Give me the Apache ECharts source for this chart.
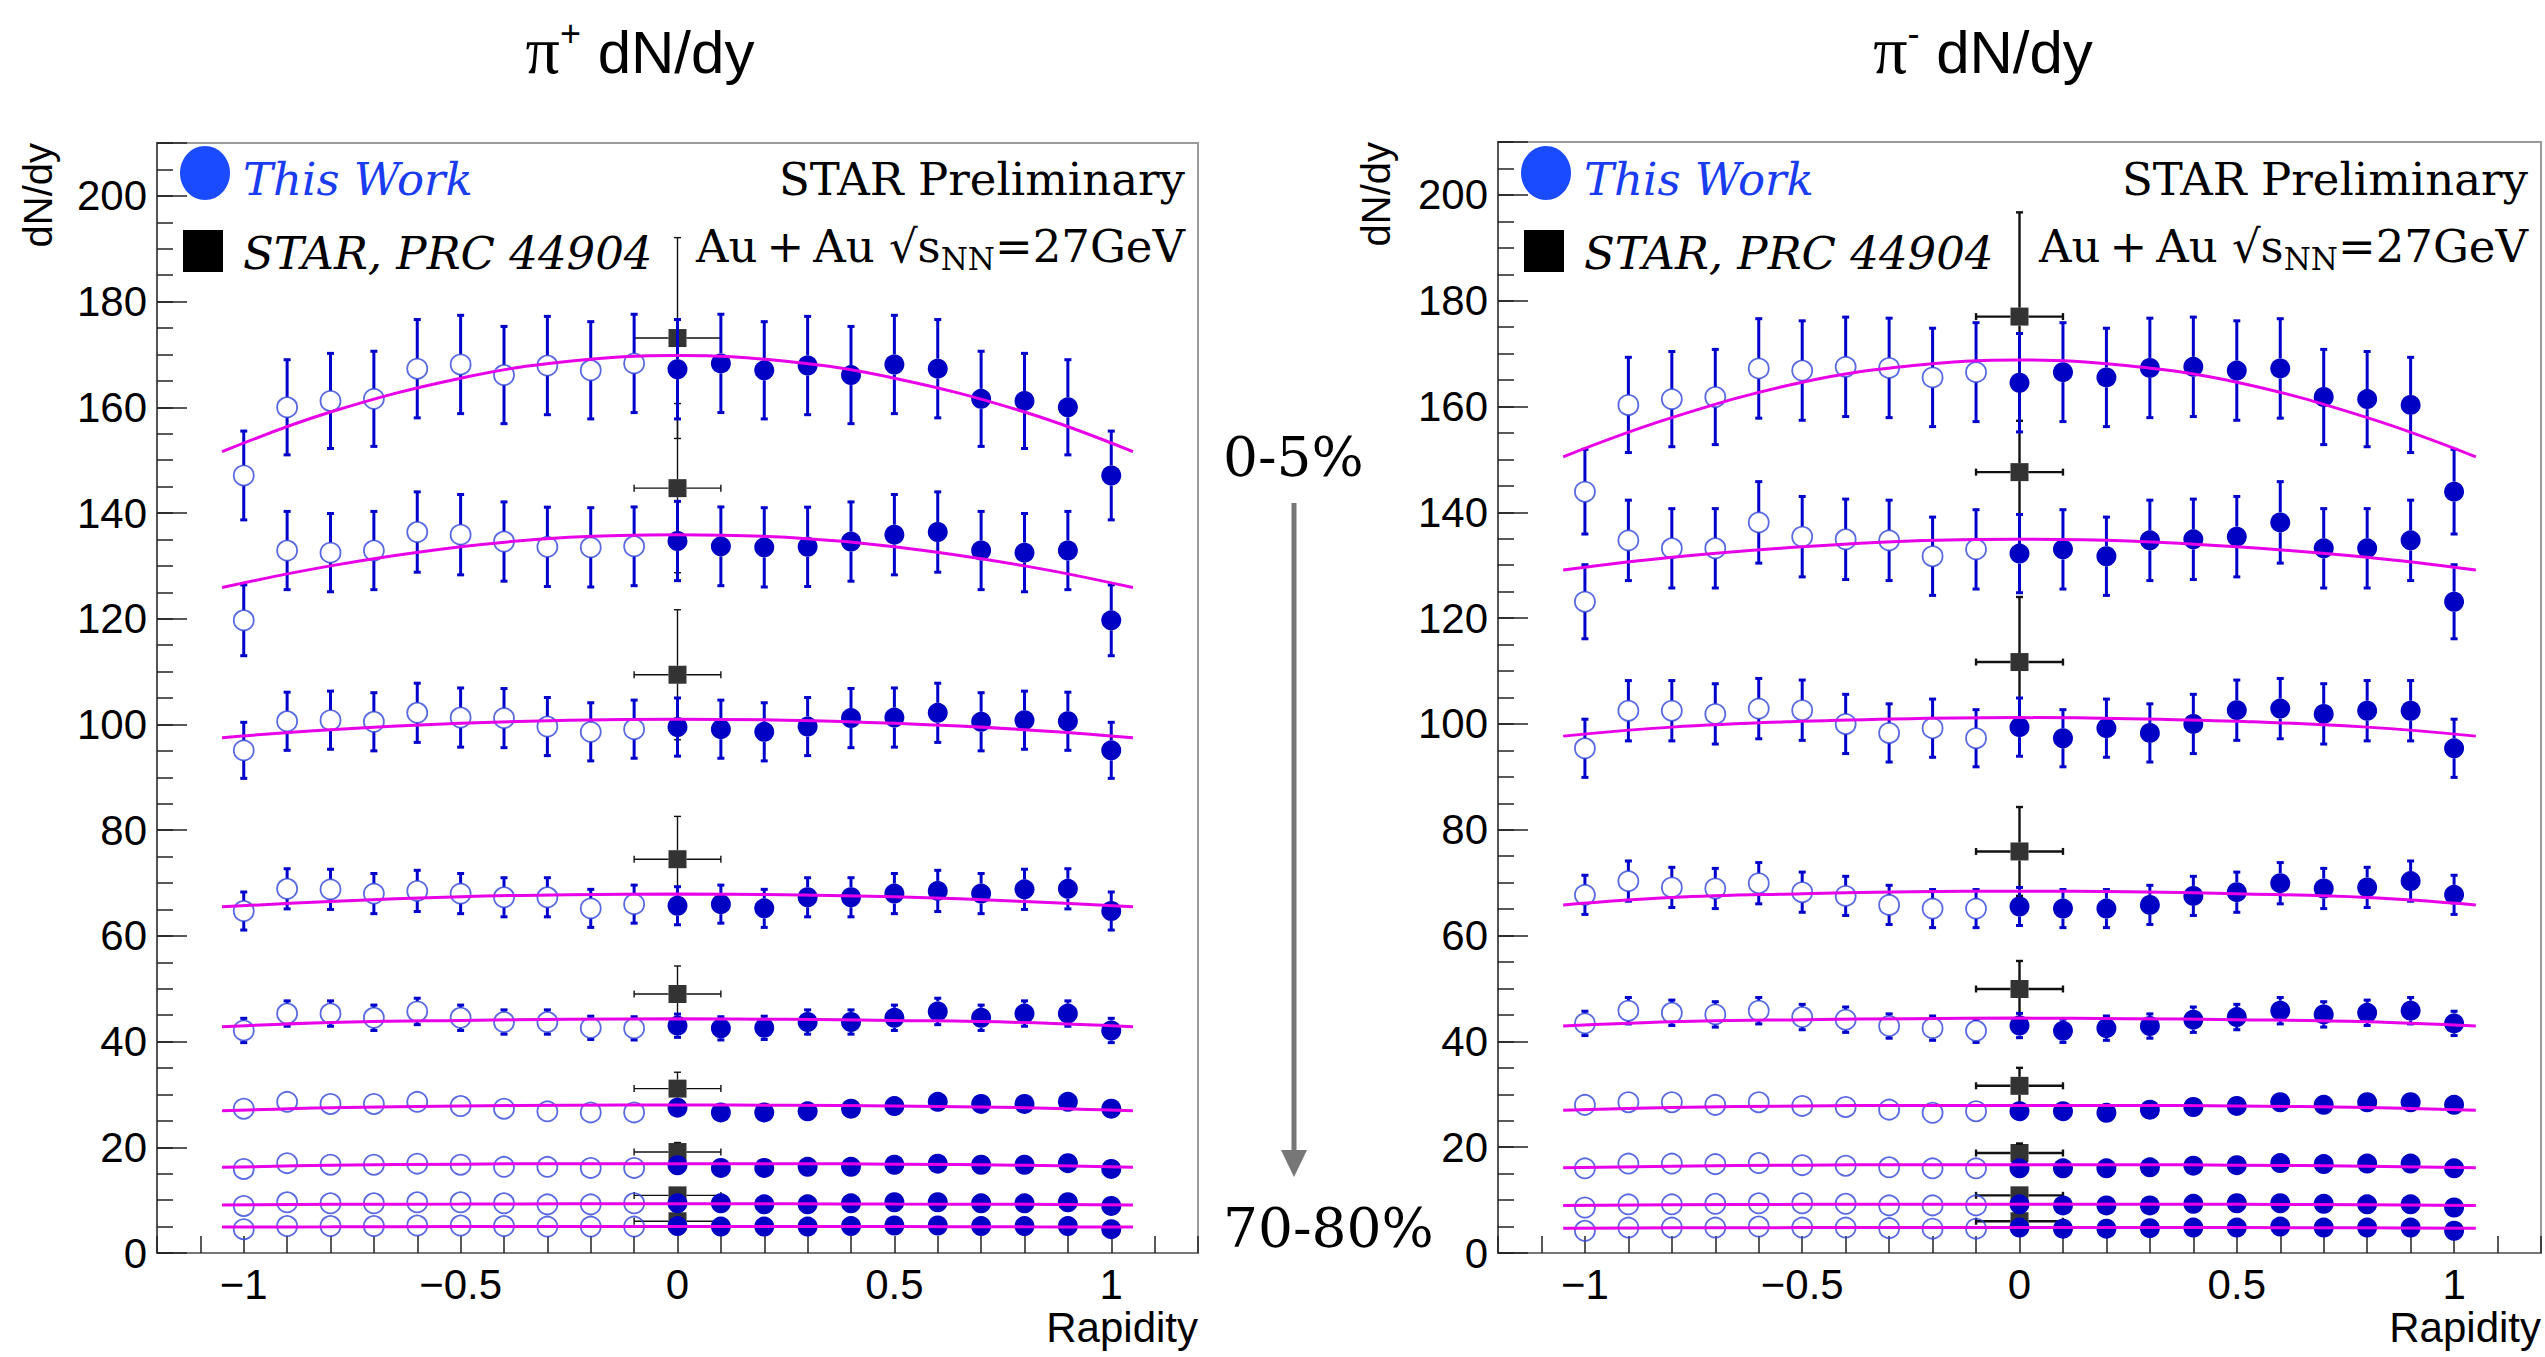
<!DOCTYPE html>
<html>
<head>
<meta charset="utf-8">
<script src="https://cdn.jsdelivr.net/npm/echarts@6/dist/echarts.min.js"></script>
<style>
html,body{margin:0;padding:0;background:#fff;}
#chart{width:2545px;height:1357px;}
</style>
</head>
<body>
<div id="chart"></div>
<script>
// ---------------- DATA ----------------
const rapidity = [0, 0.1, 0.2, 0.3, 0.4, 0.5, 0.6, 0.7, 0.8, 0.9, 1.0];
const centralityClasses = ['0-5%', '5-10%', '10-20%', '20-30%', '30-40%', '40-50%', '50-60%', '60-70%', '70-80%'];
const xTickLabels = [-1, -0.5, 0, 0.5, 1];
const yTickLabels = [0, 20, 40, 60, 80, 100, 120, 140, 160, 180, 200];

// pi+ dN/dy (this work), y = 0 .. 1.0 ; the y<0 open points are the reflected values
const piPlusDNdy = [
  [167.2, 168.3, 167.0, 167.9, 166.1, 168.1, 167.3, 161.6, 161.2, 160.0, 147.1],
  [134.7, 133.7, 133.5, 133.6, 134.6, 135.9, 136.4, 132.9, 132.5, 132.9, 119.7],
  [99.5, 99.1, 98.6, 99.6, 101.2, 101.3, 102.2, 100.5, 100.8, 100.6, 95.1],
  [65.7, 66.0, 65.2, 67.3, 67.3, 68.0, 68.5, 68.0, 68.8, 68.9, 64.7],
  [43.0, 42.5, 42.6, 43.7, 43.7, 44.5, 45.7, 44.5, 45.3, 45.3, 42.1],
  [27.5, 26.6, 26.6, 26.8, 27.3, 27.8, 28.6, 28.2, 28.2, 28.6, 27.3],
  [16.6, 16.1, 16.1, 16.3, 16.3, 16.7, 16.9, 16.7, 16.7, 17.0, 15.9],
  [9.4, 9.4, 9.2, 9.2, 9.4, 9.6, 9.6, 9.4, 9.4, 9.6, 8.9],
  [5.1, 5.0, 5.0, 5.0, 5.1, 5.2, 5.2, 5.1, 5.1, 5.1, 4.5]
];
const piPlusErr = [
  [9.4, 9.3, 9.2, 9.3, 9.2, 9.3, 9.3, 9.0, 9.0, 9.0, 8.4],
  [7.5, 7.45, 7.5, 7.5, 7.5, 7.6, 7.6, 7.4, 7.4, 7.4, 6.7],
  [5.5, 5.5, 5.5, 5.5, 5.6, 5.6, 5.6, 5.5, 5.5, 5.5, 5.3],
  [3.6, 3.6, 3.6, 3.7, 3.7, 3.8, 3.9, 3.8, 3.8, 3.8, 3.6],
  [2.2, 2.2, 2.2, 2.3, 2.3, 2.4, 2.5, 2.4, 2.4, 2.4, 2.3],
  [1.5, 1.5, 1.5, 1.5, 1.5, 1.5, 1.6, 1.5, 1.5, 1.6, 1.5],
  [0.9, 0.9, 0.9, 0.9, 0.9, 0.9, 0.9, 0.9, 0.9, 0.9, 0.9],
  [0.5, 0.5, 0.5, 0.5, 0.5, 0.5, 0.5, 0.5, 0.5, 0.5, 0.5],
  [0.3, 0.3, 0.3, 0.3, 0.3, 0.3, 0.3, 0.3, 0.3, 0.3, 0.3]
];
// pi- dN/dy (this work)
const piMinusDNdy = [
  [164.5, 166.5, 165.5, 167.3, 167.5, 166.8, 167.2, 161.8, 161.4, 160.3, 143.9],
  [132.2, 133.0, 131.7, 134.7, 134.9, 135.4, 138.1, 133.2, 133.2, 134.7, 123.1],
  [99.4, 97.3, 99.2, 98.3, 100.0, 102.6, 102.9, 101.9, 102.5, 102.5, 95.4],
  [65.5, 65.1, 65.1, 65.8, 67.5, 68.2, 69.9, 68.9, 69.1, 70.3, 67.7],
  [43.0, 42.0, 42.5, 42.9, 44.1, 44.6, 45.8, 45.1, 45.4, 45.8, 43.4],
  [26.8, 26.8, 26.5, 27.1, 27.6, 27.8, 28.5, 28.0, 28.5, 28.5, 28.0],
  [16.0, 16.0, 16.0, 16.2, 16.5, 16.6, 17.0, 16.8, 16.9, 16.9, 16.0],
  [9.2, 9.0, 9.0, 9.0, 9.3, 9.4, 9.4, 9.3, 9.2, 9.2, 8.6],
  [4.8, 4.6, 4.6, 4.7, 4.8, 4.8, 5.0, 4.8, 4.8, 4.8, 4.2]
];
const piMinusErr = [
  [9.3, 9.35, 9.3, 9.4, 9.4, 9.4, 9.4, 9.0, 9.0, 9.0, 8.0],
  [7.4, 7.5, 7.4, 7.6, 7.6, 7.6, 7.7, 7.5, 7.5, 7.6, 7.0],
  [5.5, 5.4, 5.5, 5.5, 5.6, 5.7, 5.7, 5.7, 5.7, 5.7, 5.5],
  [3.6, 3.6, 3.6, 3.7, 3.7, 3.8, 3.9, 3.8, 3.8, 3.8, 3.7],
  [2.3, 2.2, 2.3, 2.3, 2.4, 2.4, 2.5, 2.4, 2.4, 2.5, 2.3],
  [1.5, 1.5, 1.5, 1.5, 1.5, 1.5, 1.6, 1.5, 1.6, 1.6, 1.5],
  [0.9, 0.9, 0.9, 0.9, 0.9, 0.9, 0.9, 0.9, 0.9, 0.9, 0.9],
  [0.5, 0.5, 0.5, 0.5, 0.5, 0.5, 0.5, 0.5, 0.5, 0.5, 0.5],
  [0.3, 0.3, 0.3, 0.3, 0.3, 0.3, 0.3, 0.3, 0.3, 0.3, 0.3]
];
// fit curves, read at |y| = fitRapidity (symmetric)
const fitRapidity = [0, 0.25, 0.5, 0.8, 1.05];
const piPlusFit = [
  [169.8, 168.7, 165.5, 159.1, 151.6],
  [135.9, 135.4, 133.6, 130.0, 125.9],
  [101.0, 100.8, 100.2, 99.0, 97.5],
  [67.9, 67.8, 67.4, 66.5, 65.5],
  [44.3, 44.2, 44.0, 43.6, 42.8],
  [28.0, 27.95, 27.8, 27.5, 26.9],
  [16.9, 16.9, 16.8, 16.6, 16.2],
  [9.3, 9.3, 9.25, 9.2, 9.1],
  [5.0, 5.0, 5.0, 4.95, 4.9]
];
const piMinusFit = [
  [168.8, 167.7, 164.6, 157.9, 150.5],
  [134.9, 134.6, 133.5, 131.5, 129.1],
  [101.2, 101.0, 100.5, 99.4, 97.7],
  [68.4, 68.3, 67.9, 67.2, 65.8],
  [44.4, 44.3, 44.1, 43.7, 42.9],
  [27.9, 27.9, 27.8, 27.5, 27.0],
  [16.7, 16.7, 16.6, 16.4, 16.1],
  [9.2, 9.2, 9.2, 9.1, 9.0],
  [4.8, 4.8, 4.8, 4.75, 4.7]
];
// STAR, PRC 44904 (at y = 0, x error +-0.1)
const starRapidity = 0;
const starRapidityErr = 0.1;
const starPiPlus = [173.1, 144.7, 109.4, 74.5, 49.0, 31.1, 19.1, 10.9, 6.0];
const starPiPlusErr = [19.0, 16.0, 12.3, 8.1, 5.3, 3.1, 1.8, 1.0, 0.6];
const starPiMinus = [177.0, 147.6, 111.7, 75.9, 49.9, 31.6, 18.9, 10.9, 6.0];
const starPiMinusErr = [19.7, 16.0, 12.3, 8.4, 5.3, 3.4, 1.8, 1.0, 0.6];

// ---------------- STYLE / LAYOUT ----------------
const SERIF = 'DejaVu Serif';
const SANS = 'Liberation Sans';
const BLUE_FILL = '#0000c4';
const BLUE_OPEN = '#2f45d8';
const BLUE_BAR = '#0000cc';
const MAGENTA = '#e800e8';
const LEGEND_BLUE = '#1b4bff';

const panels = [
  { L: 157, T: 143, R: 1198, B: 1253, sign: '+', dndy: piPlusDNdy, err: piPlusErr, fit: piPlusFit,
    star: starPiPlus, starErr: starPiPlusErr, starLW: 1.4, titleX: 640, yTitleX: 38 },
  { L: 1498, T: 142, R: 2541, B: 1253, sign: '-', dndy: piMinusDNdy, err: piMinusErr, fit: piMinusFit,
    star: starPiMinus, starErr: starPiMinusErr, starLW: 2.4, titleX: 1983, yTitleX: 1376 }
];

const mctx = document.createElement('canvas').getContext('2d');
function measure(text, size, family, italic) {
  mctx.font = (italic ? 'italic ' : '') + size + 'px "' + family + '"';
  return mctx.measureText(text).width;
}
function txt(x, baseline, text, size, family, o) {
  o = o || {};
  const align = o.align || 'left';
  return {
    type: 'text', x: x, y: baseline - 0.3 * size, silent: true, z: 100,
    rotation: o.rotation || 0,
    style: {
      text: text, fontSize: size, fontFamily: family,
      fontStyle: o.italic ? 'italic' : 'normal',
      fill: o.color || '#000',
      align: align, textAlign: align,
      verticalAlign: 'middle', textVerticalAlign: 'middle'
    }
  };
}

function errRender(color, lw, r, cap) {
  return function (params, api) {
    const x = api.value(0), y = api.value(1), e = api.value(2);
    const ex = api.value(3) || 0;
    const c = api.coord([x, y]);
    const top = api.coord([x, y + e])[1];
    const bot = api.coord([x, y - e])[1];
    const st = { stroke: color, lineWidth: lw };
    const ch = [];
    const ln = (x1, y1, x2, y2) => ({ type: 'line', shape: { x1, y1, x2, y2 }, style: st });
    if (c[1] - top > r) {
      ch.push(ln(c[0], top, c[0], c[1] - r));
      ch.push(ln(c[0] - cap, top, c[0] + cap, top));
    }
    if (bot - c[1] > r) {
      ch.push(ln(c[0], c[1] + r, c[0], bot));
      ch.push(ln(c[0] - cap, bot, c[0] + cap, bot));
    }
    if (ex > 0) {
      const xl = api.coord([x - ex, y])[0], xr = api.coord([x + ex, y])[0];
      ch.push(ln(xl, c[1], c[0] - r, c[1]));
      ch.push(ln(c[0] + r, c[1], xr, c[1]));
      ch.push(ln(xl, c[1] - cap, xl, c[1] + cap));
      ch.push(ln(xr, c[1] - cap, xr, c[1] + cap));
    }
    return { type: 'group', children: ch };
  };
}

const grids = [], xAxes = [], yAxes = [], series = [], graphics = [];

panels.forEach((p, pi) => {
  grids.push({ left: p.L, top: p.T, width: p.R - p.L, height: p.B - p.T, show: true,
    borderColor: '#9a9a9a', borderWidth: 2, backgroundColor: 'transparent', containLabel: false });
  xAxes.push({
    type: 'value', gridIndex: pi, min: -1.2, max: 1.2, interval: 0.1,
    axisLine: { show: true, onZero: false, lineStyle: { color: '#777', width: 2 } },
    axisTick: { show: true, inside: true, length: 17, lineStyle: { color: '#222', width: 1.5 } },
    splitLine: { show: false },
    axisLabel: {
      fontSize: 42, fontFamily: SANS, color: '#000', margin: 10,
      formatter: v => {
        const k = Math.round(v * 2);
        if (Math.abs(v * 2 - k) > 1e-6) return '';
        const t = xTickLabels.find(l => Math.abs(l - k / 2) < 1e-6);
        if (t === undefined) return '';
        return String(t).replace('-', '\u2212');
      }
    }
  });
  yAxes.push({
    type: 'value', gridIndex: pi, position: 'left', min: 0, max: 210, interval: 20,
    axisLine: { show: true, onZero: false, lineStyle: { color: '#555', width: 2 } },
    axisTick: { show: true, inside: true, length: 30, lineStyle: { color: '#222', width: 1.5 } },
    splitLine: { show: false },
    axisLabel: { fontSize: 42, fontFamily: SANS, color: '#000', margin: 10,
      formatter: v => (yTickLabels.indexOf(Math.round(v)) >= 0 && Math.abs(v - Math.round(v)) < 1e-6) ? String(Math.round(v)) : '' }
  });
  yAxes.push({
    type: 'value', gridIndex: pi, position: 'left', offset: 0, min: 0, max: 210, interval: 5,
    axisLine: { show: false, onZero: false }, splitLine: { show: false }, axisLabel: { show: false },
    axisTick: { show: true, inside: true, length: 16, lineStyle: { color: '#222', width: 1.5 } }
  });
  const xi = pi, yi = pi * 2;

  // STAR reference points
  const starData = p.star.map((v, i) => [starRapidity, v, p.starErr[i], starRapidityErr]);
  series.push({ type: 'custom', xAxisIndex: xi, yAxisIndex: yi, z: 2, silent: true,
    encode: { x: 0, y: 1 }, data: starData, renderItem: errRender('#111', p.starLW, 9, 3.5) });
  series.push({ type: 'scatter', xAxisIndex: xi, yAxisIndex: yi, z: 3, silent: true,
    symbol: 'rect', symbolSize: 18, itemStyle: { color: '#000' },
    data: p.star.map(v => [starRapidity, v]) });

  // this work: error bars, open (reflected) and filled markers
  const errData = [], openData = [], fillData = [];
  p.dndy.forEach((row, r) => {
    row.forEach((v, i) => {
      const y = rapidity[i];
      fillData.push([y, v]);
      errData.push([y, v, p.err[r][i]]);
      if (i > 0) {
        openData.push([-y, v]);
        errData.push([-y, v, p.err[r][i]]);
      }
    });
  });
  series.push({ type: 'custom', xAxisIndex: xi, yAxisIndex: yi, z: 4, silent: true,
    encode: { x: 0, y: 1 }, data: errData, renderItem: errRender(BLUE_BAR, 3, 10, 3.5) });
  series.push({ type: 'scatter', xAxisIndex: xi, yAxisIndex: yi, z: 5, silent: true,
    symbol: 'circle', symbolSize: 20,
    itemStyle: { color: 'rgba(255,255,255,0)', borderColor: BLUE_OPEN, borderWidth: 1.8 },
    data: openData });
  series.push({ type: 'scatter', xAxisIndex: xi, yAxisIndex: yi, z: 5, silent: true,
    symbol: 'circle', symbolSize: 20, itemStyle: { color: BLUE_FILL, opacity: 1 },
    data: fillData });

  // fits
  p.fit.forEach(row => {
    const pts = [];
    for (let i = fitRapidity.length - 1; i > 0; i--) pts.push([-fitRapidity[i], row[i]]);
    for (let i = 0; i < fitRapidity.length; i++) pts.push([fitRapidity[i], row[i]]);
    series.push({ type: 'line', xAxisIndex: xi, yAxisIndex: yi, z: 6, silent: true,
      smooth: 0.4, showSymbol: false, symbol: 'none',
      lineStyle: { color: MAGENTA, width: 3 }, data: pts });
  });

  // ---- text & legend ----
  const tp = [
    { t: '\u03c0', size: 68, fam: 'Liberation Serif', dy: 0 },
    { t: p.sign === '+' ? '+' : '-', size: 36, fam: SANS, dy: -26 },
    { t: ' dN/dy', size: 60, fam: SANS, dy: 0 }
  ];
  const tw = tp.map(q => measure(q.t, q.size, q.fam, false));
  let cx = p.titleX - tw.reduce((a, b) => a + b, 0) / 2;
  tp.forEach((q, i) => { graphics.push(txt(cx, 70 + q.dy, q.t, q.size, q.fam)); cx += tw[i]; });

  graphics.push({ type: 'text', x: p.yTitleX, y: p.T, rotation: Math.PI / 2, silent: true, z: 100,
    style: { text: 'dN/dy', fontSize: 40, fontFamily: SANS, fill: '#000',
      align: 'right', textAlign: 'right', verticalAlign: 'middle', textVerticalAlign: 'middle' } });
  graphics.push(txt(p.R, 1340, 'Rapidity', 42, SANS, { align: 'right' }));

  graphics.push({ type: 'ellipse', silent: true, z: 100, shape: { cx: p.L + 48, cy: 173, rx: 25, ry: 27 }, style: { fill: LEGEND_BLUE } });
  graphics.push(txt(p.L + 86, 193, 'This Work', 45, SERIF, { italic: true, color: '#1a3cf0' }));
  graphics.push({ type: 'rect', silent: true, z: 100, shape: { x: p.L + 26, y: 230, width: 40, height: 42 }, style: { fill: '#000' } });
  graphics.push(txt(p.L + 86, 267, 'STAR, PRC 44904', 45, SERIF, { italic: true }));

  graphics.push(txt(p.R - 13, 193, 'STAR Preliminary', 45, SERIF, { align: 'right' }));
  const a1 = 'Au\u2009+\u2009Au \u221As', a2 = 'NN', a3 = '=27GeV';
  const w3 = measure(a3, 45, SERIF), w2 = measure(a2, 31, SERIF);
  const rx = p.R - 13;
  graphics.push(txt(rx, 260, a3, 45, SERIF, { align: 'right' }));
  graphics.push(txt(rx - w3, 268, a2, 31, SERIF, { align: 'right' }));
  graphics.push(txt(rx - w3 - w2, 260, a1, 45, SERIF, { align: 'right' }));
});

graphics.push(txt(1223, 473, centralityClasses[0], 55, SERIF));
graphics.push(txt(1223, 1244, centralityClasses[centralityClasses.length - 1], 55, SERIF));
graphics.push({ type: 'line', silent: true, z: 100, shape: { x1: 1294, y1: 503, x2: 1294, y2: 1152 }, style: { stroke: '#777', lineWidth: 5 } });
graphics.push({ type: 'polygon', silent: true, z: 100, shape: { points: [[1281, 1150], [1307, 1150], [1294, 1177]] }, style: { fill: '#777' } });

const chart = echarts.init(document.getElementById('chart'), null, { renderer: 'svg', width: 2545, height: 1357 });
chart.setOption({
  backgroundColor: '#fff',
  animation: false,
  grid: grids,
  xAxis: xAxes,
  yAxis: yAxes,
  series: series,
  graphic: { elements: graphics }
});
</script>
</body>
</html>
